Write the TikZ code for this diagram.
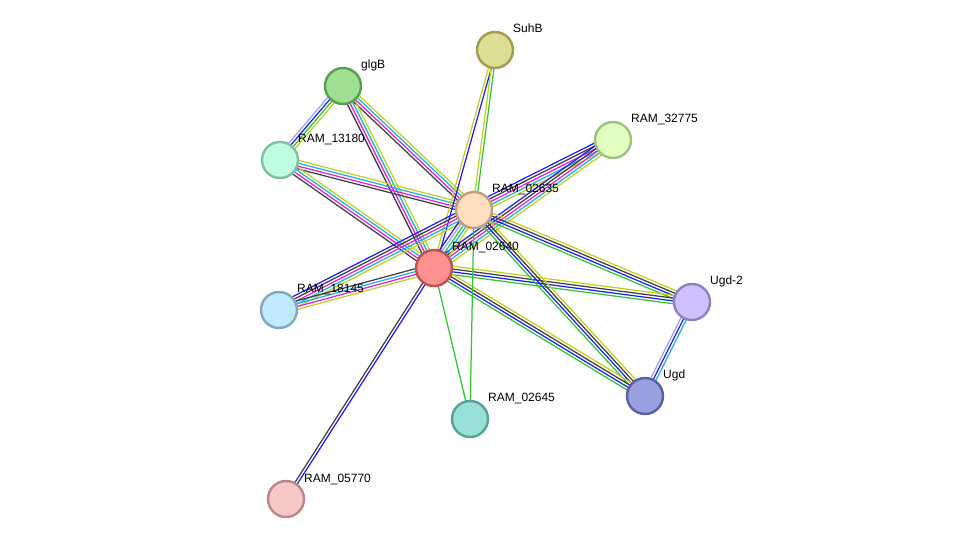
\documentclass[tikz,border=0pt]{standalone}
\usepackage{fontspec}
\setmainfont{Liberation Sans}
\usetikzlibrary{calc,backgrounds}
% evidence colours
\definecolor{eGreen}{HTML}{33C433}
\definecolor{eBlue}{HTML}{2020F0}
\definecolor{eBlack}{HTML}{404040}
\definecolor{eMag}{HTML}{E020E0}
\definecolor{eCyan}{HTML}{20B0E0}
\definecolor{eYel}{HTML}{C0D020}
\definecolor{eLav}{HTML}{A0A0FF}
% node colours
\definecolor{fGlgB}{HTML}{9FDF94}\definecolor{dGlgB}{HTML}{5A9E52}
\definecolor{fSuhB}{HTML}{DFDC94}\definecolor{dSuhB}{HTML}{A09B55}
\definecolor{fR32775}{HTML}{E0FFC0}\definecolor{dR32775}{HTML}{A0BF80}
\definecolor{fR13180}{HTML}{BFFFE0}\definecolor{dR13180}{HTML}{7FBF9F}
\definecolor{fR02635}{HTML}{FFDFBF}\definecolor{dR02635}{HTML}{BF9F7F}
\definecolor{fR02640}{HTML}{FF9090}\definecolor{dR02640}{HTML}{BF5050}
\definecolor{fR18145}{HTML}{C0E8FF}\definecolor{dR18145}{HTML}{80A8C0}
\definecolor{fUgdII}{HTML}{D0C0FF}\definecolor{dUgdII}{HTML}{9080C0}
\definecolor{fUgd}{HTML}{98A0E0}\definecolor{dUgd}{HTML}{5860A0}
\definecolor{fR02645}{HTML}{98E0D8}\definecolor{dR02645}{HTML}{58A098}
\definecolor{fR05770}{HTML}{F8C8C8}\definecolor{dR05770}{HTML}{B88888}
% parallel evidence lines between two proteins
\newcommand\protlinks[3]{%
 \foreach \c [count=\k] in {#3} {\xdef\nlinks{\k}}%
 \foreach \c [count=\k] in {#3} {%
  \pgfmathsetmacro\off{(\k-(\nlinks+1)/2)*2.8}%
  \draw[link,draw=\c] ($(#1.center)!\off pt!90:(#2.center)$) -- ($(#2.center)!\off pt!-90:(#1.center)$);}}

\begin{document}
\begin{tikzpicture}[x=1pt,y=-1pt,
 prot/.style={circle,minimum size=36pt,inner sep=0pt,line width=2.4pt},
 lbl/.style={anchor=base west,inner sep=0pt,font=\fontsize{12}{14}\selectfont},
 link/.style={line width=1.25pt}]
\useasboundingbox (0,0) rectangle (975,545);
% proteins
\node[prot,fill=fGlgB,draw=dGlgB] (glgB) at (343,86) {};
\node[prot,fill=fSuhB,draw=dSuhB] (SuhB) at (495,50) {};
\node[prot,fill=fR32775,draw=dR32775] (R32775) at (613,140) {};
\node[prot,fill=fR13180,draw=dR13180] (R13180) at (280,160) {};
\node[prot,fill=fR02635,draw=dR02635] (R02635) at (474,210) {};
\node[prot,fill=fR02640,draw=dR02640] (R02640) at (434,268) {};
\node[prot,fill=fR18145,draw=dR18145] (R18145) at (279,310) {};
\node[prot,fill=fUgdII,draw=dUgdII] (UgdII) at (692,302) {};
\node[prot,fill=fUgd,draw=dUgd] (Ugd) at (645,396) {};
\node[prot,fill=fR02645,draw=dR02645] (R02645) at (470,419) {};
\node[prot,fill=fR05770,draw=dR05770] (R05770) at (286,499) {};
% labels
\node[lbl] (glgB-l) at (361,69) {glgB};
\node[lbl] (SuhB-l) at (513,33) {SuhB};
\node[lbl] (R32775-l) at (631,123) {RAM\_32775};
\node[lbl] (R13180-l) at (298,143) {RAM\_13180};
\node[lbl] (R02635-l) at (492,193) {RAM\_02635};
\node[lbl] (R02640-l) at (452,251) {RAM\_02640};
\node[lbl] (R18145-l) at (297,293) {RAM\_18145};
\node[lbl] (UgdII-l) at (710,285) {Ugd-2};
\node[lbl] (Ugd-l) at (663,379) {Ugd};
\node[lbl] (R02645-l) at (488,402) {RAM\_02645};
\node[lbl] (R05770-l) at (304,482) {RAM\_05770};
% interactions
\begin{pgfonlayer}{background}
\protlinks{glgB}{R13180}{eLav,eBlue,eGreen,eYel}
\protlinks{glgB}{R02635}{eBlack,eMag,eCyan,eYel}
\protlinks{glgB}{R02640}{eBlack,eMag,eCyan,eYel}
\protlinks{R13180}{R02635}{eBlack,eMag,eCyan,eYel}
\protlinks{R13180}{R02640}{eBlack,eMag,eCyan,eYel}
\protlinks{SuhB}{R02640}{eYel,eBlue}
\protlinks{SuhB}{R02635}{eYel,eGreen}
\protlinks{R32775}{R02635}{eBlue,eBlack,eMag,eCyan,eYel}
\protlinks{R32775}{R02640}{eBlue,eBlack,eMag,eCyan,eYel}
\protlinks{R18145}{R02635}{eYel,eCyan,eMag,eBlack,eBlue}
\protlinks{R18145}{R02640}{eYel,eMag,eCyan,eBlack}
\protlinks{R02635}{R02640}{eBlue,eLav,eGreen,eCyan,eYel}
\protlinks{R02635}{UgdII}{eGreen,eBlue,eBlack,eYel}
\protlinks{R02640}{UgdII}{eGreen,eBlue,eBlack,eYel}
\protlinks{R02635}{Ugd}{eGreen,eBlue,eBlack,eYel}
\protlinks{R02640}{Ugd}{eGreen,eBlue,eBlack,eYel}
\protlinks{UgdII}{Ugd}{eLav,eBlue,eCyan}
\protlinks{R02640}{R05770}{eBlack,eBlue}
\protlinks{R02640}{R02645}{eGreen}
\protlinks{R02635}{R02645}{eGreen}
\end{pgfonlayer}
\end{tikzpicture}
\end{document}
